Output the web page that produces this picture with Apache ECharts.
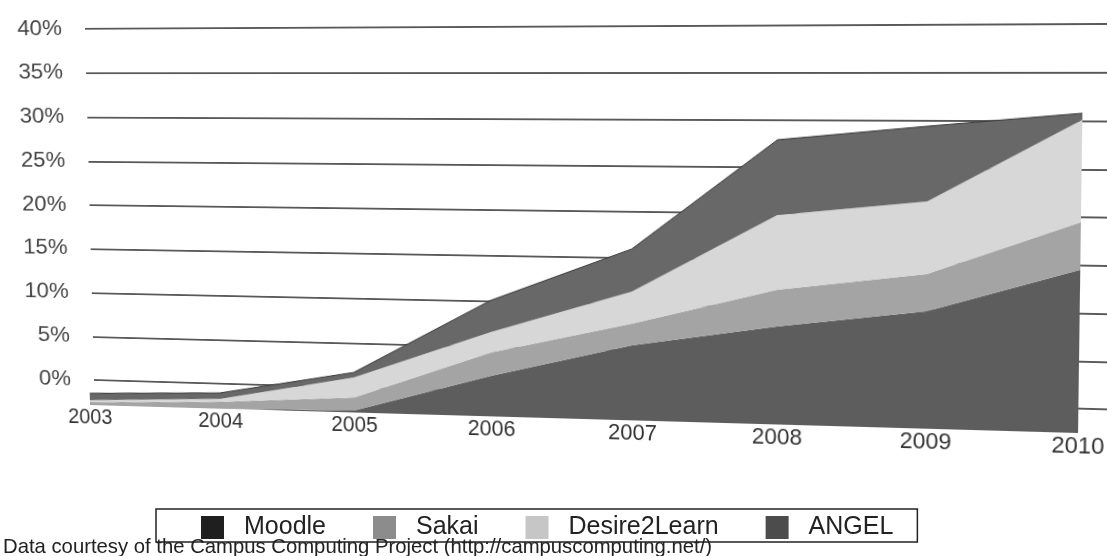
<!DOCTYPE html>
<html><head><meta charset="utf-8">
<script src="https://cdn.jsdelivr.net/npm/echarts@6/dist/echarts.min.js"></script>
<style>
html,body{margin:0;padding:0;width:1107px;height:556px;overflow:hidden;background:#fff;}
.layer{position:absolute;left:0;top:0;transform-origin:0 0;}
</style></head><body>
<div id="wall" class="layer" style="width:1110px;height:430px"></div>
<div id="front" class="layer" style="width:1110px;height:470px"></div>
<div id="over" class="layer" style="width:1107px;height:556px"></div>
<script>
// ---- data ----
const years = ['2003','2004','2005','2006','2007','2008','2009','2010'];
const moodle = [0, 0, 0.2, 4.0, 7.3, 9.4, 11.1, 15.2];
const sakai  = [0.3, 0.7, 1.3, 2.3, 2.1, 3.5, 3.5, 4.4];
const d2l    = [0.2, 0.3, 2.0, 2.0, 3.1, 7.1, 6.8, 9.4];
const angel  = [0.7, 0.6, 0.5, 3.1, 4.1, 7.1, 7.0, 0.6];
const seriesNames = ['Moodle','Sakai','Desire2Learn','ANGEL'];
const yMin = 0, yMax = 40, yStep = 5;
const footnote = 'Data courtesy of the Campus Computing Project (http://campuscomputing.net/)';

const FONT = '"Liberation Sans", Arial, Helvetica, sans-serif';
const areaColors = ['#5d5d5d', '#a4a4a4', '#d7d7d7', '#686868'];
const legendColors = ['#1f1f1f', '#8c8c8c', '#c6c6c6', '#4c4c4c'];

// ---- perspective helper: 4-point homography -> CSS matrix3d ----
function solve(A, b) {
  const n = b.length;
  for (let i = 0; i < n; i++) {
    let p = i;
    for (let r = i + 1; r < n; r++) if (Math.abs(A[r][i]) > Math.abs(A[p][i])) p = r;
    [A[i], A[p]] = [A[p], A[i]]; [b[i], b[p]] = [b[p], b[i]];
    for (let r = i + 1; r < n; r++) {
      const f = A[r][i] / A[i][i];
      for (let c = i; c < n; c++) A[r][c] -= f * A[i][c];
      b[r] -= f * b[i];
    }
  }
  const x = new Array(n).fill(0);
  for (let i = n - 1; i >= 0; i--) {
    let s = b[i];
    for (let c = i + 1; c < n; c++) s -= A[i][c] * x[c];
    x[i] = s / A[i][i];
  }
  return x;
}
function warp(el, src, dst) {
  const A = [], b = [];
  for (let i = 0; i < 4; i++) {
    const [u, v] = src[i], [x, y] = dst[i];
    A.push([u, v, 1, 0, 0, 0, -u * x, -v * x]); b.push(x);
    A.push([0, 0, 0, u, v, 1, -u * y, -v * y]); b.push(y);
  }
  const [a, bb, c, d, e, f, g, h] = solve(A, b);
  el.style.transform = `matrix3d(${a},${d},0,${g},${bb},${e},0,${h},0,0,1,0,${c},${f},0,1)`;
}

// ---- back wall: gridlines + value labels ----
const wallEl = document.getElementById('wall');
const wall = echarts.init(wallEl, null, { renderer: 'canvas' });
wall.setOption({
  animation: false,
  grid: { left: 100, top: 10, width: 1000, height: 400 },
  xAxis: { type: 'category', data: years, show: false },
  yAxis: {
    type: 'value', min: yMin, max: yMax, interval: yStep,
    axisLine: { show: false }, axisTick: { show: false },
    axisLabel: { formatter: '{value}%', fontSize: 24, color: '#444', margin: 25, fontFamily: FONT },
    splitLine: { show: true, lineStyle: { color: '#222', width: 1.7 } }
  },
  series: []
});
warp(wallEl,
  [[100, 10], [1100, 10], [100, 410], [1100, 410]],
  [[85, 27], [1110, 22], [94, 380], [1110, 409.5]]);

// ---- front plane: stacked areas + year labels ----
const frontEl = document.getElementById('front');
const front = echarts.init(frontEl, null, { renderer: 'canvas' });
const vals = [moodle, sakai, d2l, angel];
front.setOption({
  animation: false,
  grid: { left: 50, top: 10, width: 1000, height: 400 },
  xAxis: {
    type: 'category', data: years, boundaryGap: false,
    axisLine: { show: false }, axisTick: { show: false },
    axisLabel: { fontSize: 22, color: '#333', margin: 2, fontFamily: FONT }
  },
  yAxis: { type: 'value', min: yMin, max: yMax, interval: yStep, show: false, splitLine: { show: false } },
  series: seriesNames.map((name, i) => ({
    name, type: 'line', stack: 'total', data: vals[i],
    symbol: 'none', smooth: false,
    lineStyle: { width: i === 3 ? 1 : 0, color: '#3a3a3a' },
    areaStyle: { color: areaColors[i], opacity: 1 },
    itemStyle: { color: areaColors[i] }
  }))
});
warp(frontEl,
  [[50, 410], [1050, 410], [50, 10], [1050, 10]],
  [[90, 405], [1078, 433], [80, 9], [1084, -1]]);

// ---- overlay: legend + footnote ----
const over = echarts.init(document.getElementById('over'), null, { renderer: 'canvas' });
over.setOption({
  animation: false,
  title: {
    text: footnote, left: 3, top: 537, padding: 0,
    textStyle: { fontSize: 20.3, fontWeight: 'normal', color: '#222', fontFamily: FONT }
  },
  grid: { show: false, left: 0, top: 0, width: 1, height: 1 },
  xAxis: { type: 'category', data: years, show: false },
  yAxis: { type: 'value', show: false },
  legend: {
    data: seriesNames, left: 156, top: 509, orient: 'horizontal',
    padding: [6, 24, 2, 45], itemWidth: 23, itemHeight: 23, itemGap: 47,
    icon: 'rect', selectedMode: false,
    borderColor: '#222', borderWidth: 1.5,
    textStyle: { fontSize: 25, color: '#222', fontFamily: FONT, padding: [0, 0, 0, 15] }
  },
  series: seriesNames.map((name, i) => ({
    name, type: 'line', data: [], color: legendColors[i],
    itemStyle: { color: legendColors[i] }, lineStyle: { color: legendColors[i] }
  }))
});
</script>
</body></html>
